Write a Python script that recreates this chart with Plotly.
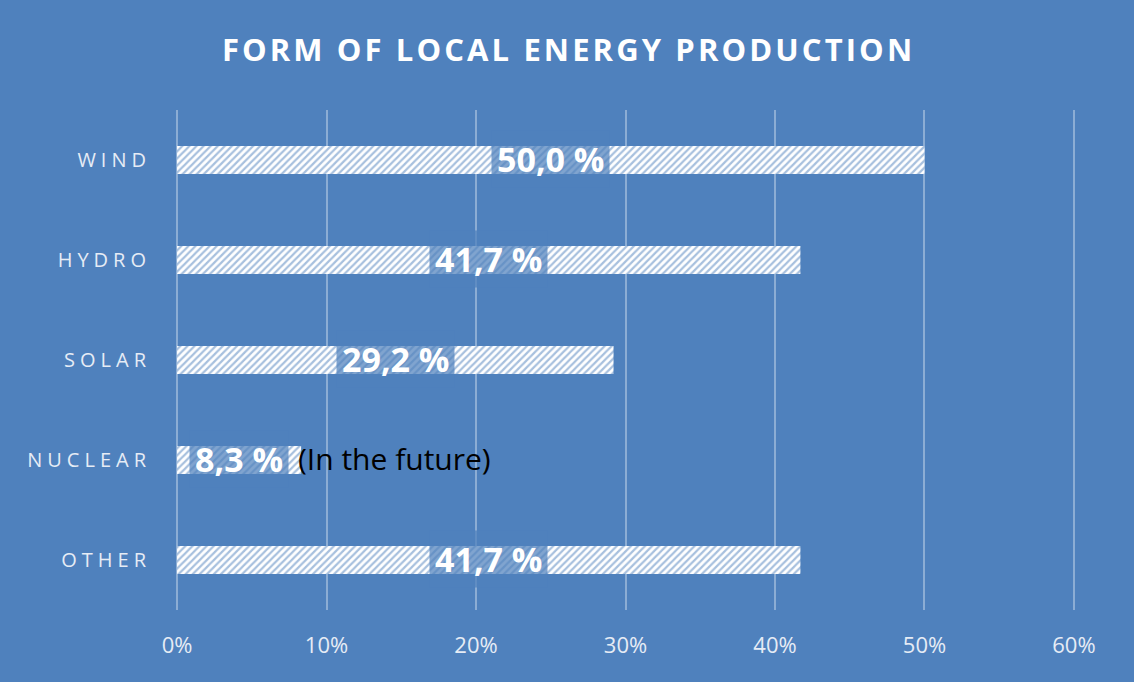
import plotly.graph_objects as go

# datos
categorias = ["WIND", "HYDRO", "SOLAR", "NUCLEAR", "OTHER"]
valores = [50.0, 41.7, 29.2, 8.3, 41.7]
notas = ["", "", "", "(In the future)", ""]
ticks_x = [0, 10, 20, 30, 40, 50, 60]

AZUL = "#4F81BD"
ESP = "\u2005"


def espaciar(txt, sep=ESP):
    """Simula el espaciado de letras del original."""
    return sep.join(list(txt))


fig = go.Figure()

fig.add_trace(go.Bar(
    x=valores,
    y=categorias,
    orientation="h",
    marker=dict(
        color="white",
        line=dict(width=0),
        pattern=dict(shape="/", bgcolor="white", fgcolor=AZUL,
                     size=5, solidity=0.45),
    ),
    hoverinfo="x+y",
    width=0.28,
))

# etiquetas de valor centradas en cada barra
for cat, v, nota in zip(categorias, valores, notas):
    etiqueta = f"{v:.1f}".replace(".", ",") + " %"
    fig.add_annotation(
        x=v / 2, y=cat, text=f"<b>{etiqueta}</b>", showarrow=False,
        font=dict(family="Open Sans", size=34, color="white"),
        bgcolor="rgba(79,129,189,0.72)", borderpad=5,
        xanchor="center", yanchor="middle", yshift=1,
    )
    if nota:
        fig.add_annotation(
            x=v, y=cat, text=nota, showarrow=False,
            font=dict(family="Open Sans", size=30, color="black"),
            xanchor="left", yanchor="middle", xshift=-5, yshift=2,
        )

fig.update_layout(
    width=1134, height=682,
    title=dict(
        text="<b>" + "\u200a".join("FORM OF LOCAL ENERGY PRODUCTION") + "</b>",
        x=0.5, xanchor="center", y=0.927, yanchor="middle",
        font=dict(family="Open Sans", size=31, color="white"),
    ),
    paper_bgcolor=AZUL,
    plot_bgcolor=AZUL,
    margin=dict(l=176, r=59, t=110, b=72),
    showlegend=False,
    xaxis=dict(
        range=[-0.07, 60.07],
        tickvals=ticks_x,
        ticktext=[f"{t}%" for t in ticks_x],
        showgrid=True,
        gridcolor="rgba(255,255,255,0.35)",
        gridwidth=1.5,
        zeroline=False,
        showline=False,
        ticks="",
        tickfont=dict(family="Open Sans", size=22, color="#E6ECF5"),
        ticklabelstandoff=20,
    ),
    yaxis=dict(
        categoryorder="array",
        categoryarray=categorias[::-1],
        range=[-0.5, 4.5],
        tickvals=categorias,
        ticktext=[espaciar(c) for c in categorias],
        showgrid=False,
        zeroline=False,
        ticks="",
        tickfont=dict(family="Open Sans", size=20, color="#E6ECF5"),
        ticklabelstandoff=29,
    ),
)

fig.write_html("out.html", config={"displayModeBar": False},
               post_script="document.body.style.margin='0';")
